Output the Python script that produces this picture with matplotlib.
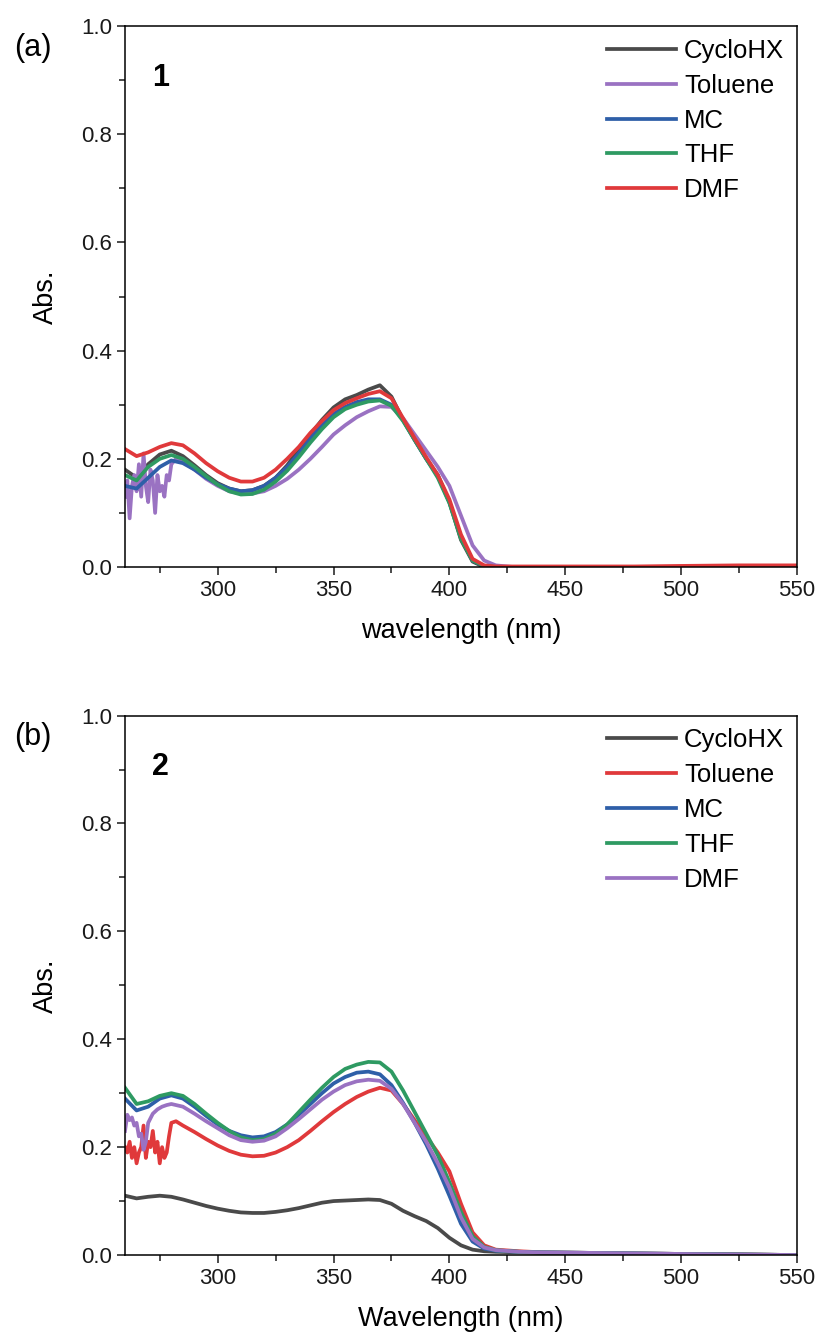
import numpy as np
import matplotlib.pyplot as plt
from matplotlib.ticker import MultipleLocator

plt.rcParams['font.family'] = ['Liberation Sans', 'DejaVu Sans']

# shared wavelength grid (nm) for the smooth spectra
wl = [260, 265, 270, 275, 280, 285, 290, 295, 300, 305, 310, 315, 320, 325, 330,
      335, 340, 345, 350, 355, 360, 365, 370, 375, 380, 385, 390, 395, 400, 405,
      410, 415, 420, 430, 440, 460, 480, 500, 525, 550]

# ---------------- panel (a), compound 1 ----------------
a_cyclohx = [0.180, 0.165, 0.190, 0.208, 0.215, 0.205, 0.188, 0.170, 0.155, 0.145,
             0.140, 0.142, 0.150, 0.165, 0.188, 0.218, 0.245, 0.272, 0.295, 0.310,
             0.318, 0.328, 0.336, 0.315, 0.272, 0.235, 0.200, 0.170, 0.120, 0.050,
             0.010, 0.000, -0.002, -0.002, -0.002, -0.002, -0.001, -0.001, -0.001, 0.000]
a_mc = [0.150, 0.145, 0.165, 0.185, 0.197, 0.192, 0.180, 0.165, 0.153, 0.145,
        0.140, 0.142, 0.150, 0.165, 0.185, 0.210, 0.238, 0.262, 0.283, 0.296,
        0.305, 0.310, 0.310, 0.300, 0.272, 0.235, 0.200, 0.168, 0.120, 0.055,
        0.012, 0.002, 0.000, -0.001, -0.001, -0.001, -0.001, 0.000, 0.000, 0.000]
a_thf = [0.170, 0.160, 0.185, 0.200, 0.207, 0.200, 0.185, 0.168, 0.152, 0.140,
         0.134, 0.135, 0.143, 0.158, 0.178, 0.203, 0.230, 0.255, 0.277, 0.292,
         0.300, 0.306, 0.308, 0.298, 0.270, 0.235, 0.200, 0.165, 0.118, 0.052,
         0.012, 0.002, 0.000, -0.001, -0.001, -0.001, -0.001, 0.000, 0.000, 0.000]
a_dmf = [0.218, 0.205, 0.212, 0.222, 0.229, 0.225, 0.210, 0.192, 0.177, 0.165,
         0.158, 0.158, 0.165, 0.180, 0.200, 0.222, 0.248, 0.270, 0.290, 0.303,
         0.312, 0.320, 0.325, 0.312, 0.275, 0.238, 0.203, 0.170, 0.125, 0.060,
         0.015, 0.003, 0.001, 0.001, 0.001, 0.001, 0.001, 0.002, 0.003, 0.003]
# toluene is noisy below 283 nm
a_tol_wl = [260, 261, 262, 263, 264, 265, 266, 267, 268, 269, 270, 271, 272, 273,
            274, 275, 276, 277, 278, 279, 280, 282, 285, 290, 295, 300, 305, 310,
            315, 320, 325, 330, 335, 340, 345, 350, 355, 360, 365, 370, 375, 380,
            385, 390, 395, 400, 405, 410, 415, 420, 430, 440, 460, 480, 500, 525, 550]
a_tol = [0.13, 0.16, 0.09, 0.15, 0.17, 0.14, 0.19, 0.13, 0.21, 0.15, 0.12, 0.18,
         0.16, 0.10, 0.17, 0.14, 0.15, 0.13, 0.17, 0.16, 0.19, 0.200, 0.195, 0.180,
         0.163, 0.150, 0.140, 0.136, 0.136, 0.140, 0.150, 0.163, 0.180, 0.200,
         0.222, 0.245, 0.262, 0.277, 0.288, 0.297, 0.296, 0.275, 0.245, 0.215,
         0.185, 0.150, 0.095, 0.040, 0.012, 0.003, -0.001, -0.002, -0.002, -0.002,
         -0.002, -0.002, -0.002]

# ---------------- panel (b), compound 2 ----------------
b_cyclohx = [0.110, 0.105, 0.108, 0.110, 0.108, 0.103, 0.097, 0.091, 0.086, 0.082,
             0.079, 0.078, 0.078, 0.080, 0.083, 0.087, 0.092, 0.097, 0.100, 0.101,
             0.102, 0.103, 0.102, 0.095, 0.082, 0.072, 0.063, 0.050, 0.032, 0.018,
             0.010, 0.007, 0.006, 0.005, 0.004, 0.003, 0.002, 0.002, 0.001, 0.000]
b_mc = [0.290, 0.268, 0.275, 0.290, 0.296, 0.290, 0.275, 0.258, 0.242, 0.230,
        0.222, 0.218, 0.220, 0.228, 0.242, 0.260, 0.280, 0.300, 0.318, 0.330,
        0.338, 0.340, 0.335, 0.315, 0.282, 0.245, 0.205, 0.160, 0.110, 0.058,
        0.025, 0.012, 0.008, 0.006, 0.005, 0.004, 0.003, 0.002, 0.001, 0.000]
b_thf = [0.310, 0.280, 0.285, 0.295, 0.300, 0.295, 0.280, 0.262, 0.245, 0.230,
         0.218, 0.213, 0.215, 0.225, 0.242, 0.265, 0.288, 0.310, 0.330, 0.345,
         0.353, 0.358, 0.357, 0.340, 0.305, 0.265, 0.225, 0.185, 0.135, 0.080,
         0.035, 0.015, 0.009, 0.006, 0.005, 0.004, 0.003, 0.002, 0.001, 0.000]
b_tol_wl = [260, 261, 262, 263, 264, 265, 266, 267, 268, 269, 270, 271, 272, 273,
            274, 275, 276, 277, 278, 279, 280, 282, 285, 290, 295, 300, 305, 310,
            315, 320, 325, 330, 335, 340, 345, 350, 355, 360, 365, 370, 375, 380,
            385, 390, 395, 400, 405, 410, 415, 420, 430, 440, 460, 480, 500, 525, 550]
b_tol = [0.20, 0.19, 0.21, 0.18, 0.20, 0.17, 0.19, 0.20, 0.24, 0.18, 0.21, 0.20,
         0.23, 0.19, 0.21, 0.17, 0.20, 0.18, 0.19, 0.22, 0.245, 0.248, 0.240, 0.228,
         0.215, 0.203, 0.193, 0.186, 0.183, 0.184, 0.190, 0.200, 0.213, 0.230,
         0.248, 0.265, 0.280, 0.293, 0.303, 0.310, 0.305, 0.280, 0.250, 0.220,
         0.190, 0.155, 0.095, 0.042, 0.018, 0.010, 0.007, 0.005, 0.004, 0.003,
         0.002, 0.001, 0.000]
b_dmf_wl = [260, 261, 262, 263, 264, 265, 266, 267, 268, 269, 270, 272, 274, 276,
            278, 280, 285, 290, 295, 300, 305, 310, 315, 320, 325, 330, 335, 340,
            345, 350, 355, 360, 365, 370, 375, 380, 385, 390, 395, 400, 405, 410,
            415, 420, 430, 440, 460, 480, 500, 525, 550]
b_dmf = [0.23, 0.26, 0.25, 0.255, 0.24, 0.245, 0.22, 0.225, 0.195, 0.21, 0.245,
         0.262, 0.270, 0.275, 0.278, 0.280, 0.275, 0.262, 0.248, 0.235, 0.222,
         0.213, 0.210, 0.212, 0.220, 0.235, 0.252, 0.270, 0.288, 0.303, 0.315,
         0.322, 0.325, 0.323, 0.308, 0.280, 0.245, 0.210, 0.170, 0.125, 0.070,
         0.030, 0.014, 0.009, 0.006, 0.005, 0.004, 0.003, 0.002, 0.001, 0.000]

grey = '#4a4a4a'
purple = '#9a72c2'
blue = '#2e5fa8'
green = '#2e9a62'
red = '#e0393b'

fig = plt.figure(figsize=(8.17, 13.42), dpi=100)
ax1 = fig.add_axes([0.153, 0.5775, 0.8225, 0.403])
ax2 = fig.add_axes([0.153, 0.0648, 0.8225, 0.402])

lw = 2.7
ax1.plot(wl, a_cyclohx, color=grey, lw=lw, label='CycloHX')
ax1.plot(a_tol_wl, a_tol, color=purple, lw=lw, label='Toluene')
ax1.plot(wl, a_mc, color=blue, lw=lw, label='MC')
ax1.plot(wl, a_thf, color=green, lw=lw, label='THF')
ax1.plot(wl, a_dmf, color=red, lw=lw, label='DMF')

ax2.plot(wl, b_cyclohx, color=grey, lw=lw, label='CycloHX')
ax2.plot(b_tol_wl, b_tol, color=red, lw=lw, label='Toluene')
ax2.plot(wl, b_mc, color=blue, lw=lw, label='MC')
ax2.plot(wl, b_thf, color=green, lw=lw, label='THF')
ax2.plot(b_dmf_wl, b_dmf, color=purple, lw=lw, label='DMF')

for ax, tag, num, xl in [(ax1, '(a)', '1', 'wavelength (nm)'),
                         (ax2, '(b)', '2', 'Wavelength (nm)')]:
    ax.set_xlim(260, 550)
    ax.set_ylim(0, 1.0)
    ax.xaxis.set_major_locator(MultipleLocator(50))
    ax.xaxis.set_minor_locator(MultipleLocator(25))
    ax.yaxis.set_major_locator(MultipleLocator(0.2))
    ax.yaxis.set_minor_locator(MultipleLocator(0.1))
    ax.tick_params(which='both', direction='out', top=False, right=False,
                   width=1.1, labelsize=16, colors='#1a1a1a')
    ax.tick_params(which='major', length=6)
    ax.tick_params(which='minor', length=4)
    for s in ax.spines.values():
        s.set_linewidth(1.1)
    ax.set_xlabel(xl, fontsize=19.5, labelpad=12)
    ax.set_ylabel('Abs.', fontsize=19.5, labelpad=16)
    ax.text(0.04, 0.905, num, transform=ax.transAxes, fontsize=22,
            fontweight='bold', va='center')
    ax.text(-0.165, 0.96, tag, transform=ax.transAxes, fontsize=22, va='center')
    ax.legend(loc='upper right', bbox_to_anchor=(1.0, 1.0), frameon=False,
              fontsize=18.5, handlelength=2.7, handletextpad=0.3,
              labelspacing=0.42, borderaxespad=0.1)

fig.savefig('out.png', dpi=100)
